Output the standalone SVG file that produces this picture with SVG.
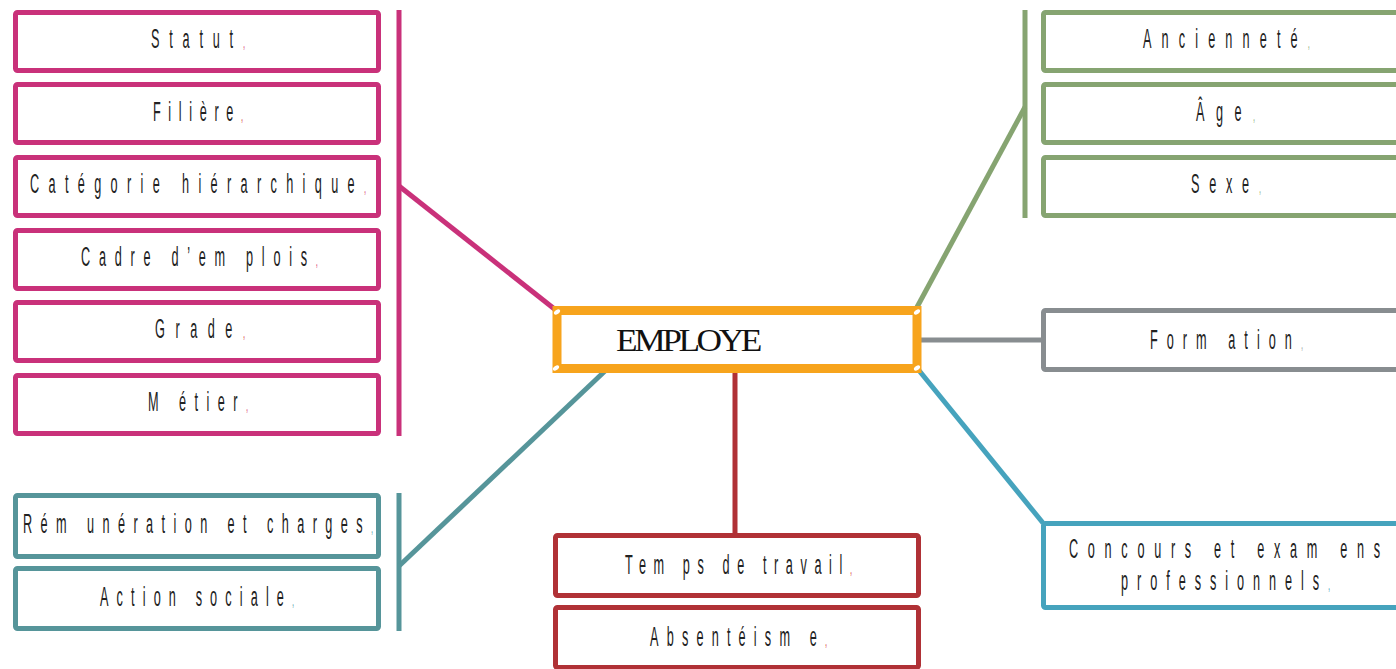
<svg xmlns="http://www.w3.org/2000/svg" width="1396" height="669" viewBox="0 0 1396 669">
<style>
.bx{fill:#fff;stroke-width:5}
.pk{stroke:#C9317A}
.gr{stroke:#86A471}
.gy{stroke:#888D90}
.bl{stroke:#46A3BD}
.rd{stroke:#B03136}
.tl{stroke:#56959A}
.ln{fill:none;stroke-width:5}
.lbl{font-family:"Liberation Sans",Arial,sans-serif;font-size:27px;fill:#222}
.cm{font-size:16px}
.cpk{fill:#D83A6E}
.cgr{fill:#8DB07A}
.cgy{fill:#9A9FA2}
.cbl{fill:#45A1BA}
.crd{fill:#D63A3A}
.ctl{fill:#5BA0A8}
</style>
<rect width="1396" height="669" fill="#fff"/>
<g id="connectors">
  <line class="ln pk" x1="399" y1="10" x2="399" y2="436"/>
  <line class="ln pk" x1="399" y1="186" x2="557" y2="311"/>
  <line class="ln tl" x1="399" y1="493" x2="399" y2="631"/>
  <line class="ln tl" x1="399" y1="566" x2="605" y2="371"/>
  <line class="ln gr" x1="1025" y1="10" x2="1025" y2="218"/>
  <line class="ln gr" x1="1025" y1="107" x2="916" y2="309"/>
  <line class="ln gy" x1="920" y1="340" x2="1043" y2="340"/>
  <line class="ln bl" x1="917" y1="368" x2="1043" y2="523"/>
  <line class="ln rd" x1="735" y1="371" x2="735" y2="535"/>
</g>
<g id="employe">
  <rect x="557" y="310.5" width="360" height="58" fill="#fff" stroke="#F7A41D" stroke-width="9"/>
  <g fill="#fff">
    <ellipse cx="557" cy="312" rx="3.5" ry="2" transform="rotate(-35 557 312)"/>
    <ellipse cx="917" cy="312" rx="3.5" ry="2" transform="rotate(-35 917 312)"/>
    <ellipse cx="556" cy="368" rx="3.5" ry="2" transform="rotate(-35 556 368)"/>
    <ellipse cx="917" cy="368" rx="3.5" ry="2" transform="rotate(-35 917 368)"/>
  </g>
  <text x="616" y="351" font-family="'Liberation Serif','Times New Roman',serif" font-size="31" letter-spacing="-3" textLength="143" lengthAdjust="spacingAndGlyphs" fill="#111">EMPLOYE</text>
</g>
<g id="statut">
  <rect class="bx pk" x="15.5" y="12.5" width="363" height="58" rx="2"/>
  <text class="lbl" transform="translate(151,48) scale(0.47,1)" textLength="200" lengthAdjust="spacing">Statut<tspan class="cm cpk">,</tspan></text>
</g>
<g id="filiere">
  <rect class="bx pk" x="15.5" y="84.5" width="363" height="58" rx="2"/>
  <text class="lbl" transform="translate(153,121) scale(0.47,1)" textLength="191.5" lengthAdjust="spacing">Filière<tspan class="cm crd">,</tspan></text>
</g>
<g id="categorie">
  <rect class="bx pk" x="15.5" y="157.5" width="363" height="58" rx="2"/>
  <text class="lbl" transform="translate(30,193) scale(0.47,1)" textLength="715" lengthAdjust="spacing">Catégorie hiérarchique<tspan class="cm cpk">,</tspan></text>
</g>
<g id="cadre">
  <rect class="bx pk" x="15.5" y="230.5" width="363" height="58" rx="2"/>
  <text class="lbl" transform="translate(81,266) scale(0.47,1)" textLength="504" lengthAdjust="spacing">Cadre d’em plois<tspan class="cm cpk">,</tspan></text>
</g>
<g id="grade">
  <rect class="bx pk" x="15.5" y="302.5" width="363" height="58" rx="2"/>
  <text class="lbl" transform="translate(155,338) scale(0.47,1)" textLength="191.5" lengthAdjust="spacing">Grade<tspan class="cm crd">,</tspan></text>
</g>
<g id="metier">
  <rect class="bx pk" x="15.5" y="375.5" width="363" height="58" rx="2"/>
  <text class="lbl" transform="translate(148,411) scale(0.47,1)" textLength="213" lengthAdjust="spacing">M étier<tspan class="cm cpk">,</tspan></text>
</g>
<g id="remuneration">
  <rect class="bx tl" x="15.5" y="495.5" width="363" height="61" rx="2"/>
  <text class="lbl" transform="translate(23,533) scale(0.47,1)" textLength="745" lengthAdjust="spacing">Rém unération et charges<tspan class="cm ctl">,</tspan></text>
</g>
<g id="action">
  <rect class="bx tl" x="15.5" y="568.5" width="363" height="60" rx="2"/>
  <text class="lbl" transform="translate(100,606) scale(0.47,1)" textLength="413" lengthAdjust="spacing">Action sociale<tspan class="cm ctl">,</tspan></text>
</g>
<g id="anciennete">
  <rect class="bx gr" x="1043.5" y="12.5" width="370" height="58" rx="2"/>
  <text class="lbl" transform="translate(1143,48) scale(0.47,1)" textLength="355" lengthAdjust="spacing">Ancienneté<tspan class="cm cgr">,</tspan></text>
</g>
<g id="age">
  <rect class="bx gr" x="1043.5" y="84.5" width="370" height="58" rx="2"/>
  <text class="lbl" transform="translate(1196,121) scale(0.47,1)" textLength="125.5" lengthAdjust="spacing">Âge<tspan class="cm cgr">,</tspan></text>
</g>
<g id="sexe">
  <rect class="bx gr" x="1043.5" y="157.5" width="370" height="58" rx="2"/>
  <text class="lbl" transform="translate(1191,193) scale(0.47,1)" textLength="149" lengthAdjust="spacing">Sexe<tspan class="cm cgr">,</tspan></text>
</g>
<g id="formation">
  <rect class="bx gy" x="1043.5" y="310.5" width="370" height="59" rx="2"/>
  <text class="lbl" transform="translate(1150,349) scale(0.47,1)" textLength="325.5" lengthAdjust="spacing">Form ation<tspan class="cm cgy">,</tspan></text>
</g>
<g id="concours">
  <rect class="bx bl" x="1043.5" y="523.5" width="370" height="84" rx="2"/>
  <text class="lbl" transform="translate(1069,558) scale(0.47,1)" textLength="662" lengthAdjust="spacing">Concours et exam ens</text>
  <text class="lbl" transform="translate(1121,590) scale(0.47,1)" textLength="445" lengthAdjust="spacing">professionnels<tspan class="cm cbl">,</tspan></text>
</g>
<g id="temps">
  <rect class="bx rd" x="555.5" y="535.5" width="363" height="60" rx="2"/>
  <text class="lbl" transform="translate(625,574) scale(0.47,1)" textLength="483" lengthAdjust="spacing">Tem ps de travail<tspan class="cm crd">,</tspan></text>
</g>
<g id="absenteisme">
  <rect class="bx rd" x="555.5" y="607.5" width="363" height="60" rx="2"/>
  <text class="lbl" transform="translate(650,646) scale(0.47,1)" textLength="377" lengthAdjust="spacing">Absentéism e<tspan class="cm crd">,</tspan></text>
</g>
</svg>
